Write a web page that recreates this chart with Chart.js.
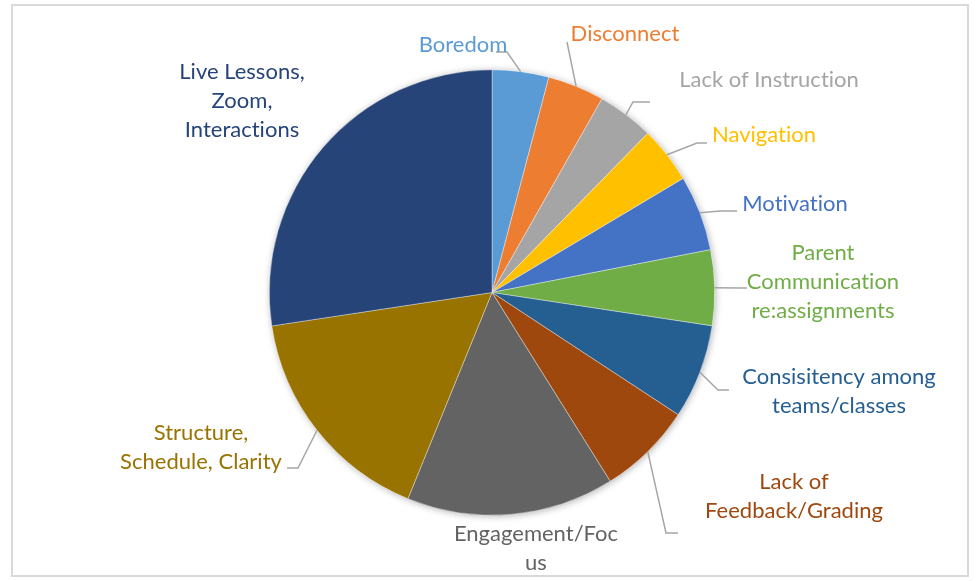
<!DOCTYPE html>
<html>
<head>
<meta charset="utf-8">
<script src="https://cdn.jsdelivr.net/npm/chart.js@4.4.1/dist/chart.umd.min.js"></script>
<style>
  html, body { margin: 0; padding: 0; background: #fff; }
  #wrap { position: relative; width: 979px; height: 581px; }
  #frame { position: absolute; left: 11px; top: 4px; width: 958px; height: 573px; border: 2px solid #d9d9d9; box-sizing: border-box; }
  canvas { position: absolute; left: 0; top: 0; }
</style>
</head>
<body>
<div id="wrap">
  <div id="frame"></div>
  <canvas id="pie" width="979" height="581"></canvas>
</div>
<script>
// Survey themes, counted responses (clockwise from 12 o'clock)
const categories = [
    'Boredom',
    'Disconnect',
    'Lack of Instruction',
    'Navigation',
    'Motivation',
    'Parent Communication re:assignments',
    'Consisitency among teams/classes',
    'Lack of Feedback/Grading',
    'Engagement/Focus',
    'Structure, Schedule, Clarity',
    'Live Lessons, Zoom, Interactions'
];
const counts = [3, 3, 3, 3, 4, 4, 5, 5, 11, 12, 20];

// how each label wraps in the original
const labelLines = [
    ['Boredom'],
    ['Disconnect'],
    ['Lack of Instruction'],
    ['Navigation'],
    ['Motivation'],
    ['Parent', 'Communication', 're:assignments'],
    ['Consisitency among', 'teams/classes'],
    ['Lack of', 'Feedback/Grading'],
    ['Engagement/Foc', 'us'],
    ['Structure,', 'Schedule, Clarity'],
    ['Live Lessons,', 'Zoom,', 'Interactions']
];

const colors = [
    '#5B9BD5', '#ED7D31', '#A5A5A5', '#FFC000', '#4472C4', '#70AD47',
    '#255E91', '#9E480E', '#636363', '#997300', '#264478'
];

// label placement: text centre (first line) and leader elbow points
const labelPos = [
    { x: 463, y: 45,  leader: [[507, 52], [496, 52]] },
    { x: 625, y: 34,  leader: [[567, 42]] },
    { x: 769, y: 80,  leader: [[633, 102], [650, 102]] },
    { x: 764, y: 135, leader: [[697, 143], [707, 143]] },
    { x: 795, y: 204, leader: [[720, 211], [737, 211]] },
    { x: 823, y: 253, leader: [[740, 288], [747, 288]] },
    { x: 839, y: 377, leader: [[718, 390], [729, 390]] },
    { x: 794, y: 482, leader: [[666, 533], [678, 533]] },
    { x: 536, y: 534, leader: null },
    { x: 201, y: 433, leader: [[298, 468], [287, 468]] },
    { x: 242, y: 72,  leader: null }
];

const LABEL_FONT = '22px Lato';
const LINE_H = 29;

const pieShadow = {
    id: 'pieShadow',
    beforeDatasetsDraw(chart) {
        const arc = chart.getDatasetMeta(0).data[0];
        if (!arc) return;
        const ctx = chart.ctx;
        ctx.save();
        ctx.shadowColor = 'rgba(0,0,0,0.3)';
        ctx.shadowBlur = 7;
        ctx.shadowOffsetX = 1;
        ctx.shadowOffsetY = 1;
        ctx.fillStyle = '#fff';
        ctx.beginPath();
        ctx.arc(arc.x, arc.y, arc.outerRadius, 0, Math.PI * 2);
        ctx.fill();
        ctx.restore();
    }
};

const outsideLabels = {
    id: 'outsideLabels',
    afterDatasetsDraw(chart) {
        const ctx = chart.ctx;
        const arcs = chart.getDatasetMeta(0).data;
        ctx.save();
        arcs.forEach((arc, i) => {
            const pos = labelPos[i];
            if (pos.leader) {
                const mid = (arc.startAngle + arc.endAngle) / 2;
                const sx = arc.x + Math.cos(mid) * arc.outerRadius;
                const sy = arc.y + Math.sin(mid) * arc.outerRadius;
                ctx.strokeStyle = '#A6A6A6';
                ctx.lineWidth = 1.5;
                ctx.beginPath();
                ctx.moveTo(sx, sy);
                pos.leader.forEach(p => ctx.lineTo(p[0], p[1]));
                ctx.stroke();
            }
            ctx.fillStyle = colors[i];
            ctx.font = LABEL_FONT;
            ctx.letterSpacing = '0.01px'; // keeps Lato from using ligatures
            ctx.textAlign = 'center';
            ctx.textBaseline = 'middle';
            labelLines[i].forEach((line, k) => {
                ctx.fillText(line, pos.x, pos.y + k * LINE_H);
            });
        });
        ctx.restore();
    }
};

new Chart(document.getElementById('pie'), {
    type: 'pie',
    data: {
        labels: categories,
        datasets: [{
            data: counts,
            backgroundColor: colors,
            borderColor: 'rgba(255,255,255,0.6)',
            borderWidth: 0.6
        }]
    },
    options: {
        responsive: false,
        animation: false,
        layout: { padding: { left: 269, right: 264, top: 69, bottom: 65 } },
        plugins: {
            legend: { display: false },
            tooltip: { enabled: false }
        }
    },
    plugins: [pieShadow, outsideLabels]
});
</script>
</body>
</html>
